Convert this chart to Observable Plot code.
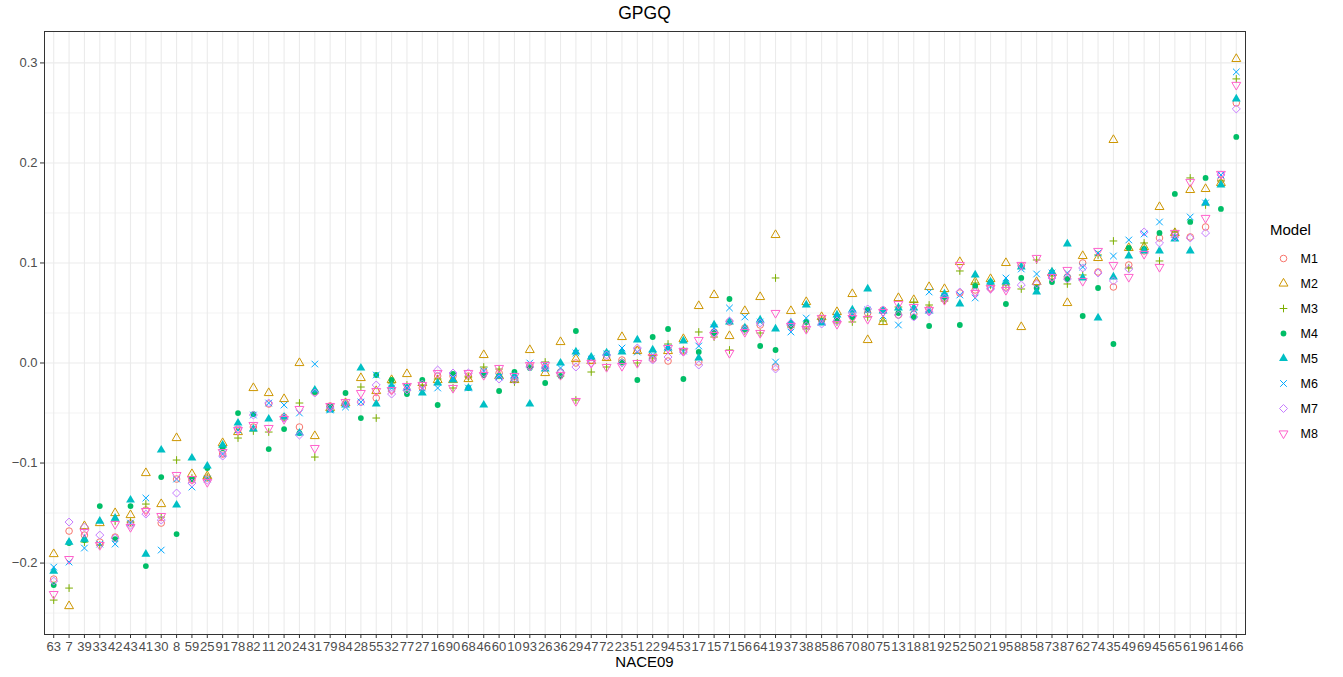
<!DOCTYPE html>
<html>
<head>
<meta charset="utf-8">
<script src="https://cdn.jsdelivr.net/npm/d3@7"></script>
<script src="https://cdn.jsdelivr.net/npm/@observablehq/plot@0.6"></script>
<style>
  html, body { margin: 0; padding: 0; background: white; }
  #wrap { position: relative; width: 1343px; height: 677px; overflow: hidden; font-family: "Liberation Sans", Arial, sans-serif; }
  #title { position: absolute; left: 44px; width: 1201px; top: 3px; text-align: center; font-size: 17.5px; color: #000; }
  #xtitle { position: absolute; left: 44px; width: 1201px; top: 653px; text-align: center; font-size: 15px; color: #000; }
  #legtitle { position: absolute; left: 1270px; top: 221px; font-size: 15px; color: #000; }
  #legend { position: absolute; left: 1270px; top: 246px; }
  #chart { position: absolute; left: 0; top: 0; }
</style>
</head>
<body>
<div id="wrap">
  <div id="chart"></div>
  <div id="title">GPGQ</div>
  <div id="xtitle">NACE09</div>
  <div id="legtitle">Model</div>
  <div id="legend"></div>
</div>
<script>
// Categories (NACE09), in plotted order
const nace = ["63","7","39","33","42","43","41","30","8","59","25","91","78","82","11","20","24","31","79","84",
  "28","55","32","77","27","16","90","68","46","60","10","93","26","36","29","47","72","23","51","22",
  "94","53","17","15","71","56","64","19","37","38","85","86","70","80","75","13","18","81","92","52",
  "50","21","95","88","58","73","87","62","74","35","49","69","45","65","61","96","14","66"];

const models = ["M1","M2","M3","M4","M5","M6","M7","M8"];

const M1 = [-0.216,-0.168,-0.172,-0.179,-0.174,-0.160,-0.147,-0.160,-0.116,-0.117,-0.115,-0.091,-0.066,-0.064,-0.041,-0.054,-0.064,-0.029,-0.043,-0.041,
  -0.039,-0.035,-0.027,-0.027,-0.025,-0.013,-0.013,-0.013,-0.008,-0.010,-0.016,-0.003,-0.004,-0.009,0.000,0.003,0.006,0.003,0.013,0.004,
  0.002,0.012,0.001,0.031,0.041,0.035,0.038,-0.004,0.038,0.038,0.043,0.042,0.047,0.050,0.053,0.048,0.049,0.054,0.064,0.070,
  0.073,0.075,0.076,0.097,0.080,0.087,0.086,0.100,0.091,0.076,0.098,0.112,0.125,0.128,0.126,0.136,0.183,0.260];
const M2 = [-0.191,-0.243,-0.163,-0.160,-0.150,-0.152,-0.110,-0.141,-0.075,-0.111,-0.113,-0.080,-0.069,-0.025,-0.030,-0.036,0.000,-0.073,-0.045,-0.040,
  -0.015,-0.028,-0.017,-0.011,-0.020,-0.017,-0.017,-0.016,0.008,-0.013,-0.017,0.013,-0.010,0.021,0.004,0.002,0.005,0.026,0.012,0.010,
  0.012,0.024,0.057,0.068,0.027,0.052,0.066,0.128,0.052,0.061,0.046,0.051,0.069,0.023,0.041,0.065,0.063,0.076,0.074,0.101,
  0.081,0.084,0.100,0.036,0.081,0.090,0.060,0.107,0.105,0.223,0.115,0.116,0.156,0.130,0.173,0.174,0.180,0.304];
const M3 = [-0.237,-0.225,-0.179,-0.182,-0.158,-0.159,-0.141,-0.154,-0.097,-0.115,-0.114,-0.084,-0.075,-0.068,-0.069,-0.055,-0.040,-0.094,-0.044,-0.040,
  -0.024,-0.055,-0.020,-0.022,-0.022,-0.016,-0.025,-0.014,-0.004,-0.006,-0.019,-0.004,0.001,-0.013,-0.037,-0.009,-0.004,0.001,0.000,0.005,
  0.019,0.013,0.031,0.026,0.013,0.032,0.030,0.085,0.036,0.034,0.044,0.041,0.041,0.046,0.042,0.056,0.061,0.058,0.062,0.092,
  0.080,0.078,0.078,0.074,0.103,0.087,0.079,0.088,0.108,0.122,0.095,0.120,0.102,0.131,0.185,0.158,0.182,0.284];
const M4 = [-0.222,-0.180,-0.177,-0.143,-0.176,-0.143,-0.203,-0.114,-0.171,-0.116,-0.105,-0.085,-0.050,-0.051,-0.086,-0.066,-0.070,-0.029,-0.043,-0.030,
  -0.055,-0.012,-0.017,-0.031,-0.017,-0.042,-0.011,-0.025,-0.012,-0.028,-0.009,-0.005,-0.020,-0.013,0.032,0.005,0.010,0.001,-0.017,0.026,
  0.034,-0.016,0.011,0.030,0.064,0.034,0.017,0.013,0.037,0.041,0.042,0.044,0.046,0.053,0.052,0.050,0.046,0.037,0.066,0.038,
  0.077,0.081,0.059,0.085,0.075,0.081,0.084,0.047,0.075,0.019,0.115,0.114,0.130,0.169,0.141,0.185,0.154,0.226];
const M5 = [-0.208,-0.179,-0.176,-0.158,-0.155,-0.137,-0.191,-0.087,-0.142,-0.095,-0.103,-0.082,-0.060,-0.066,-0.056,-0.054,-0.070,-0.027,-0.047,-0.042,
  -0.005,-0.041,-0.023,-0.025,-0.030,-0.020,-0.017,-0.025,-0.042,-0.013,-0.013,-0.041,-0.006,0.000,0.011,0.006,0.010,0.011,0.023,0.013,
  0.015,0.022,0.005,0.038,0.041,0.035,0.043,0.034,0.040,0.058,0.040,0.048,0.053,0.074,0.052,0.055,0.055,0.052,0.069,0.059,
  0.088,0.081,0.081,0.096,0.071,0.091,0.119,0.085,0.045,0.086,0.107,0.112,0.112,0.124,0.112,0.160,0.178,0.264];
const M6 = [-0.204,-0.199,-0.185,-0.181,-0.181,-0.160,-0.135,-0.187,-0.116,-0.124,-0.116,-0.091,-0.067,-0.052,-0.040,-0.042,-0.050,-0.001,-0.047,-0.044,
  -0.039,-0.012,-0.025,-0.024,-0.025,-0.025,-0.015,-0.025,-0.008,-0.014,-0.015,0.000,-0.002,-0.005,0.010,0.004,0.009,0.015,0.011,0.008,
  0.015,0.012,0.017,0.035,0.055,0.046,0.041,0.001,0.031,0.045,0.041,0.046,0.049,0.053,0.047,0.038,0.053,0.071,0.067,0.068,
  0.065,0.077,0.085,0.094,0.089,0.090,0.090,0.096,0.110,0.107,0.123,0.129,0.141,0.126,0.146,0.160,0.188,0.291];
const M7 = [-0.218,-0.159,-0.164,-0.172,-0.175,-0.162,-0.151,-0.157,-0.130,-0.120,-0.117,-0.093,-0.066,-0.052,-0.040,-0.055,-0.072,-0.030,-0.045,-0.041,
  -0.039,-0.022,-0.031,-0.027,-0.021,-0.007,-0.010,-0.010,-0.010,-0.016,-0.017,-0.004,-0.005,-0.010,-0.004,0.000,0.008,0.000,0.015,0.003,
  0.006,0.011,-0.002,0.030,0.042,0.033,0.040,-0.006,0.040,0.037,0.039,0.042,0.050,0.054,0.053,0.048,0.046,0.051,0.065,0.071,
  0.071,0.074,0.075,0.078,0.079,0.085,0.084,0.095,0.090,0.082,0.094,0.131,0.120,0.126,0.125,0.130,0.188,0.254];
const M8 = [-0.231,-0.196,-0.169,-0.182,-0.161,-0.164,-0.148,-0.153,-0.112,-0.116,-0.119,-0.089,-0.067,-0.062,-0.065,-0.056,-0.046,-0.085,-0.043,-0.039,
  -0.030,-0.028,-0.027,-0.023,-0.022,-0.010,-0.025,-0.010,-0.012,-0.005,-0.013,-0.002,-0.002,-0.012,-0.038,0.000,-0.004,-0.003,0.000,0.006,
  0.015,0.012,0.023,0.028,0.010,0.031,0.030,0.050,0.037,0.034,0.045,0.039,0.045,0.044,0.051,0.059,0.056,0.053,0.063,0.098,
  0.070,0.075,0.073,0.098,0.105,0.086,0.093,0.082,0.112,0.098,0.086,0.109,0.096,0.130,0.181,0.145,0.189,0.278];

const yTicks = [-0.2, -0.1, 0.0, 0.1, 0.2, 0.3];
const yMinor = [-0.25, -0.15, -0.05, 0.05, 0.15, 0.25];

const series = {M1, M2, M3, M4, M5, M6, M7, M8};
const colors = {M1:"#F8766D", M2:"#CD9600", M3:"#7CAE00", M4:"#00BE67", M5:"#00BFC4", M6:"#00A9FF", M7:"#C77CFF", M8:"#FF61CC"};

// downward-pointing triangle symbol
const sqrt3 = Math.sqrt(3);
const triangleDown = {
  draw(context, size) {
    const y = -Math.sqrt(size / (sqrt3 * 3));
    context.moveTo(0, -y * 2);
    context.lineTo(-sqrt3 * y, y);
    context.lineTo(sqrt3 * y, y);
    context.closePath();
  }
};

const styles = {
  M1: {symbol: "circle", r: 3.3, fill: "none", stroke: colors.M1},
  M2: {symbol: "triangle", r: 3.3, fill: "none", stroke: colors.M2},
  M3: {symbol: "plus", r: 2.6, fill: "none", stroke: colors.M3},
  M4: {symbol: "circle", r: 2.9, fill: colors.M4, stroke: "none"},
  M5: {symbol: "triangle", r: 3.3, fill: colors.M5, stroke: "none"},
  M6: {symbol: "times", r: 3.1, fill: "none", stroke: colors.M6},
  M7: {symbol: "diamond2", r: 3.6, fill: "none", stroke: colors.M7},
  M8: {symbol: triangleDown, r: 3.3, fill: "none", stroke: colors.M8}
};

const rows = [];
for (const m of models) {
  series[m].forEach((v, i) => rows.push({nace: nace[i], model: m, value: v}));
}

const font = "Liberation Sans, Arial, sans-serif";

const dotMarks = models.map(m => Plot.dot(rows.filter(d => d.model === m), {
  x: "nace", y: "value", strokeWidth: 1, ...styles[m]
}));

const chart = Plot.plot({
  width: 1343,
  height: 677,
  marginTop: 31,
  marginBottom: 43,
  marginLeft: 44,
  marginRight: 98,
  style: {fontFamily: font, background: "white", overflow: "visible"},
  x: {type: "point", domain: nace, padding: 0.6, round: false, label: null},
  y: {domain: [-0.2714, 0.3314], label: null},
  marks: [
    Plot.gridY(yMinor, {stroke: "#ebebeb", strokeOpacity: 1, strokeWidth: 0.6}),
    Plot.gridY(yTicks, {stroke: "#ebebeb", strokeOpacity: 1, strokeWidth: 1.1}),
    Plot.gridX(nace, {stroke: "#ebebeb", strokeOpacity: 1, strokeWidth: 1.1}),
    ...dotMarks,
    Plot.frame({stroke: "#333333", strokeWidth: 1}),
    Plot.axisY(yTicks, {tickFormat: d3.format(".1f"), tickSize: 4, tickPadding: 3, fontSize: 13,
      stroke: "#333333", fill: "#4d4d4d", label: null}),
    Plot.axisX({tickSize: 4, tickPadding: 3, fontSize: 13, stroke: "#333333", fill: "#4d4d4d", label: null})
  ]
});
document.getElementById("chart").appendChild(chart);

// Legend
const legendRows = models.map(m => ({model: m}));
const legend = Plot.plot({
  width: 60,
  height: 200,
  marginTop: 12,
  marginBottom: 13,
  marginLeft: 0,
  marginRight: 0,
  style: {fontFamily: font, background: "transparent", overflow: "visible"},
  y: {type: "point", domain: models, padding: 0, round: false, axis: null},
  marks: [
    ...models.map(m => Plot.dot(legendRows.filter(d => d.model === m), {
      y: "model", frameAnchor: "left", dx: 13, strokeWidth: 1, ...styles[m]
    })),
    Plot.text(legendRows, {y: "model", text: "model", frameAnchor: "left", dx: 30, textAnchor: "start",
      fontSize: 12.5, fill: "#000"})
  ]
});
document.getElementById("legend").appendChild(legend);
</script>
</body>
</html>
